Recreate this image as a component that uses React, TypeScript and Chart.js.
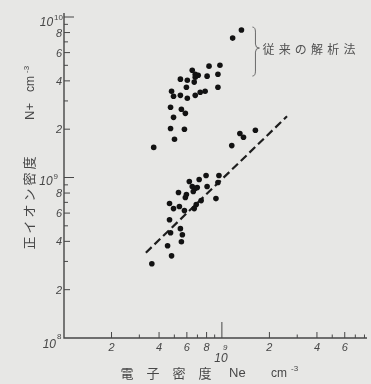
import React, { useEffect, useRef } from "react";
import { Chart, registerables } from "chart.js";

Chart.register(...registerables);

// 従来の解析法 (conventional analysis) — electron density Ne vs positive ion density N+
const conventionalNe = [
  1.33e9, 1.17e9, 8.29e8, 9.72e8, 6.49e8, 6.78e8, 7.08e8, 6.78e8, 8.06e8, 9.44e8,
  5.46e8, 6.04e8, 6.68e8, 5.96e8, 9.44e8, 4.8e8, 7.83e8, 7.29e8, 6.78e8, 4.94e8,
  5.46e8, 6.04e8, 4.73e8, 5.54e8, 5.87e8, 4.94e8, 4.73e8, 5.79e8, 5.01e8, 3.7e8,
];
const conventionalNp = [
  8.29e9, 7.39e9, 4.94e9, 5.01e9, 4.66e9, 4.4e9, 4.34e9, 4.22e9, 4.28e9, 4.4e9,
  4.1e9, 4.04e9, 3.93e9, 3.65e9, 3.65e9, 3.45e9, 3.45e9, 3.4e9, 3.25e9, 3.21e9,
  3.25e9, 3.12e9, 2.74e9, 2.66e9, 2.51e9, 2.37e9, 2.02e9, 2.0e9, 1.73e9, 1.54e9,
];
// new analysis
const newNe = [
  1.3e9, 1.37e9, 1.63e9, 1.155e9, 7.94e8, 9.58e8, 6.22e8, 7.18e8, 8.06e8, 9.44e8,
  6.49e8, 6.78e8, 6.98e8, 6.59e8, 5.31e8, 5.96e8, 5.87e8, 7.39e8, 9.17e8, 4.66e8,
  6.88e8, 5.38e8, 4.94e8, 5.79e8, 6.68e8, 4.66e8, 5.46e8, 4.73e8, 5.62e8, 5.54e8,
  4.53e8, 4.8e8, 3.6e8,
];
const newNp = [
  1.88e9, 1.78e9, 1.97e9, 1.58e9, 1.03e9, 1.03e9, 9.44e8, 9.72e8, 8.79e8, 9.31e8,
  8.79e8, 8.53e8, 8.66e8, 8.18e8, 8.06e8, 7.83e8, 7.5e8, 7.18e8, 7.39e8, 6.88e8,
  6.78e8, 6.59e8, 6.4e8, 6.22e8, 6.4e8, 5.46e8, 4.8e8, 4.53e8, 4.4e8, 3.98e8,
  3.76e8, 3.25e8, 2.9e8,
];
// dashed fit line end points
const fitNe = [3.3e8, 2.585e9];
const fitNp = [3.4e8, 2.405e9];

// axes
const xMin = 1e8;
const xMax = 8.3e9;
const yMin = 1e8;
const yMax = 1e10;
const xTicks = [2e8, 3e8, 4e8, 5e8, 6e8, 7e8, 8e8, 9e8, 1e9, 2e9, 3e9, 4e9, 5e9, 6e9, 7e9, 8e9];
const xTickText = ["2", "", "4", "", "6", "", "8", "", "10", "2", "", "4", "", "6", "", ""];
const xTickExp = ["", "", "", "", "", "", "", "", "9", "", "", "", "", "", "", ""];
const yTicks = [
  2e8, 3e8, 4e8, 5e8, 6e8, 7e8, 8e8, 9e8, 1e9,
  2e9, 3e9, 4e9, 5e9, 6e9, 7e9, 8e9, 9e9, 1e10,
];
const yTickText = ["2", "", "4", "", "6", "", "8", "", "10", "2", "", "4", "", "6", "", "8", "", "10"];
const yTickExp = ["", "", "", "", "", "", "", "", "9", "", "", "", "", "", "", "", "", "10"];
const originText = "10";
const originExp = "8";

const xTitleKanji = ["電", "子", "密", "度"];
const xTitleSym = "Ne";
const unitText = "cm";
const unitExp = "-3";
const yTitleKanji = ["正", "イ", "オ", "ン", "密", "度"];
const yTitleSym = "N+";
const braceLabel = ["従", "来", "の", "解", "析", "法"];

const BG = "#e7e7e5";
const INK = "#474747";
const DOT = "#121212";
const CJK = "'Noto Sans CJK JP', 'Noto Sans', sans-serif";
const NUM = "'Liberation Sans', 'DejaVu Sans', sans-serif";

const figurePlugin = {
  id: "figure",
  beforeDraw(chart: any) {
    const ctx = chart.ctx;
    ctx.save();
    ctx.fillStyle = BG;
    ctx.fillRect(0, 0, chart.width, chart.height);
    ctx.restore();
  },
  afterDraw(chart: any) {
    const ctx: CanvasRenderingContext2D = chart.ctx;
    const xs = chart.scales.x;
    const ys = chart.scales.y;
    const x0 = xs.getPixelForValue(xMin);
    const y0 = ys.getPixelForValue(yMin);
    const xEnd = xs.right;
    const yTop = ys.getPixelForValue(yMax);
    ctx.save();
    ctx.strokeStyle = INK;
    ctx.fillStyle = INK;
    ctx.lineWidth = 1.4;
    ctx.beginPath();
    ctx.moveTo(x0, yTop - 4);
    ctx.lineTo(x0, y0);
    ctx.lineTo(xEnd, y0);
    ctx.stroke();

    // x ticks (inside, upward)
    ctx.lineWidth = 1;
    xTicks.forEach((v, i) => {
      const px = xs.getPixelForValue(v);
      const len = xTickExp[i] ? 16 : xTickText[i] ? 6 : 3.5;
      ctx.beginPath();
      ctx.moveTo(px, y0);
      ctx.lineTo(px, y0 - len);
      ctx.stroke();
      if (xTickText[i]) {
        if (xTickExp[i]) {
          ctx.font = `italic 12px ${NUM}`;
          ctx.textAlign = "center";
          ctx.textBaseline = "middle";
          ctx.fillText(xTickText[i], px - 1, y0 + 21);
          ctx.font = `italic 8px ${NUM}`;
          ctx.textAlign = "left";
          ctx.fillText(xTickExp[i], px + 1, y0 + 10);
        } else {
          ctx.font = `italic 11px ${NUM}`;
          ctx.textAlign = "center";
          ctx.textBaseline = "middle";
          ctx.fillText(xTickText[i], px, y0 + 10);
        }
      }
    });

    // y ticks (inside, rightward)
    yTicks.forEach((v, i) => {
      const py = ys.getPixelForValue(v);
      const len = yTickExp[i] ? 10 : yTickText[i] ? 6 : 4;
      ctx.beginPath();
      ctx.moveTo(x0, py);
      ctx.lineTo(x0 + len, py);
      ctx.stroke();
      if (yTickText[i]) {
        if (yTickExp[i]) {
          ctx.font = `8px ${NUM}`;
          const ew = ctx.measureText(yTickExp[i]).width;
          const right = yTickExp[i].length > 1 ? x0 - 1 : x0 - 6;
          const dy = yTickExp[i].length > 1 ? 6 : 4;
          ctx.textAlign = "right";
          ctx.textBaseline = "middle";
          ctx.fillText(yTickExp[i], right, py - 1 + (dy - 4));
          ctx.font = `italic 12px ${NUM}`;
          ctx.fillText(yTickText[i], right - ew - 1, py + dy);
        } else {
          ctx.font = `italic 11px ${NUM}`;
          ctx.textAlign = "right";
          ctx.textBaseline = "middle";
          ctx.fillText(yTickText[i], x0 - 2, py + 1);
        }
      }
    });

    // origin label 10^8
    ctx.font = `8px ${NUM}`;
    ctx.textAlign = "left";
    ctx.textBaseline = "middle";
    ctx.fillText(originExp, x0 - 7, y0 - 1);
    ctx.font = `italic 12px ${NUM}`;
    ctx.textAlign = "right";
    ctx.fillText(originText, x0 - 8, y0 + 7);

    // x title
    ctx.font = `13px ${CJK}`;
    ctx.textAlign = "center";
    ctx.textBaseline = "middle";
    const tY = y0 + 35;
    xTitleKanji.forEach((c, i) => {
      ctx.fillText(c, x0 + 63 + i * 26, tY);
    });
    ctx.font = `13px ${NUM}`;
    ctx.textAlign = "left";
    ctx.fillText(xTitleSym, x0 + 165, tY);
    ctx.font = `12px ${NUM}`;
    ctx.fillText(unitText, x0 + 207, tY + 1);
    ctx.font = `8px ${NUM}`;
    ctx.fillText(unitExp, x0 + 227, tY - 4);

    // y title (rotated)
    ctx.save();
    ctx.translate(29, 0);
    ctx.rotate(-Math.PI / 2);
    ctx.font = `13px ${CJK}`;
    ctx.textAlign = "center";
    ctx.textBaseline = "middle";
    yTitleKanji.forEach((c, i) => {
      ctx.fillText(c, -(y0 - 95 - i * 16), 0);
    });
    ctx.font = `13px ${NUM}`;
    ctx.textAlign = "left";
    ctx.fillText(yTitleSym, -(y0 - 218), 1);
    ctx.font = `12px ${NUM}`;
    ctx.fillText(unitText, -(y0 - 246), 2);
    ctx.font = `8px ${NUM}`;
    ctx.fillText(unitExp, -(y0 - 265), -2);
    ctx.restore();

    // brace + label for conventional analysis
    const bx = xs.getPixelForValue(conventionalNe[0]) + 14;
    const bTop = ys.getPixelForValue(conventionalNp[0]) - 3;
    const bBot = bTop + 49;
    const bMid = bTop + 21;
    ctx.strokeStyle = "#6a6a6a";
    ctx.lineWidth = 1;
    ctx.beginPath();
    ctx.moveTo(bx - 3, bTop);
    ctx.quadraticCurveTo(bx, bTop, bx, bTop + 5);
    ctx.lineTo(bx, bMid - 4);
    ctx.quadraticCurveTo(bx, bMid, bx + 4, bMid);
    ctx.quadraticCurveTo(bx, bMid, bx, bMid + 4);
    ctx.lineTo(bx, bBot - 5);
    ctx.quadraticCurveTo(bx, bBot, bx - 3, bBot);
    ctx.stroke();
    ctx.fillStyle = "#505050";
    ctx.font = `12px ${CJK}`;
    ctx.textAlign = "center";
    ctx.textBaseline = "middle";
    braceLabel.forEach((c, i) => {
      ctx.fillText(c, bx + 13 + i * 16.2, bMid + 1);
    });
    ctx.restore();
  },
};

export default function App() {
  const ref = useRef<HTMLCanvasElement | null>(null);
  useEffect(() => {
    if (!ref.current) return;
    const conv = conventionalNe.map((x, i) => ({ x, y: conventionalNp[i] }));
    const nw = newNe.map((x, i) => ({ x, y: newNp[i] }));
    const fit = fitNe.map((x, i) => ({ x, y: fitNp[i] }));
    const chart = new Chart(ref.current, {
      type: "scatter",
      data: {
        datasets: [
          {
            label: "従来の解析法",
            data: conv,
            pointRadius: 2.8,
            pointBackgroundColor: DOT,
            pointBorderWidth: 0,
          },
          {
            label: "new",
            data: nw,
            pointRadius: 2.8,
            pointBackgroundColor: DOT,
            pointBorderWidth: 0,
          },
          {
            type: "line",
            label: "fit",
            data: fit,
            showLine: true,
            borderColor: "#1e1e1e",
            borderWidth: 2.2,
            borderDash: [8, 4],
            pointRadius: 0,
            fill: false,
          } as any,
        ],
      },
      options: {
        responsive: false,
        animation: false,
        layout: { padding: { left: 64, top: 17, right: 0, bottom: 46 } },
        scales: {
          x: { type: "logarithmic", min: xMin, max: xMax, display: false },
          y: { type: "logarithmic", min: yMin, max: yMax, display: false },
        },
        plugins: { legend: { display: false }, tooltip: { enabled: false } },
      },
      plugins: [figurePlugin],
    });
    return () => chart.destroy();
  }, []);
  return (
    <div style={{ position: "fixed", left: 0, top: 0, width: 371, height: 384, background: BG }}>
      <canvas ref={ref} width={371} height={384} />
    </div>
  );
}
